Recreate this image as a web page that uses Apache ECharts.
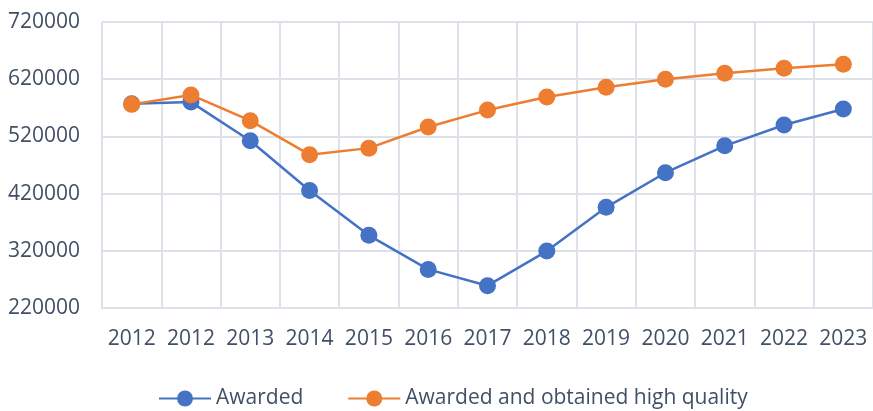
<!DOCTYPE html>
<html><head><meta charset="utf-8">
<script src="https://cdn.jsdelivr.net/npm/echarts@6/dist/echarts.min.js"></script>
<style>html,body{margin:0;padding:0;background:#fff}#c{width:873px;height:411px}</style>
</head><body><div id="c"></div>
<script>
const categories = ['2012','2012','2013','2014','2015','2016','2017','2018','2019','2020','2021','2022','2023'];
const awarded = [577000, 580000, 512500, 425500, 347000, 287500, 259000, 319500, 396000, 456500, 503500, 540000, 568000];
const awardedHQ = [576000, 592500, 547500, 488000, 499500, 536500, 566000, 589000, 606000, 620000, 630500, 639000, 646000];
const seriesNames = ['Awarded', 'Awarded and obtained high quality'];

const textColor = '#415066';
const gridColor = '#dde2ea';
const font = 'Open Sans';
const chart = echarts.init(document.getElementById('c'));
chart.setOption({
  animation: false,
  backgroundColor: '#fff',
  grid: {left: 102, top: 22, right: -4, bottom: 103, containLabel: false},
  legend: {
    left: 153, top: 383, itemWidth: 52, itemHeight: 20, itemGap: 44,
    textStyle: {color: textColor, fontFamily: font, fontSize: 21},
    data: seriesNames
  },
  xAxis: {
    type: 'category', data: categories, boundaryGap: true,
    axisLine: {show: true, lineStyle: {color: gridColor, width: 2}},
    axisTick: {show: false},
    splitLine: {show: true, interval: 0, lineStyle: {color: gridColor, width: 2}},
    axisLabel: {interval: 0, color: textColor, fontFamily: font, fontSize: 21, margin: 21}
  },
  yAxis: {
    type: 'value', min: 220000, max: 720000, interval: 100000,
    axisLine: {show: false}, axisTick: {show: false},
    splitLine: {show: true, lineStyle: {color: gridColor, width: 2}},
    axisLabel: {color: textColor, fontFamily: font, fontSize: 21, margin: 22,
      formatter: v => String(v)}
  },
  series: [
    {name: seriesNames[0], type: 'line', data: awarded, symbol: 'circle', symbolSize: 17,
     lineStyle: {color: '#4472c4', width: 2.5}, itemStyle: {color: '#4472c4'}, z: 3},
    {name: seriesNames[1], type: 'line', data: awardedHQ, symbol: 'circle', symbolSize: 17,
     lineStyle: {color: '#ed7d31', width: 2.5}, itemStyle: {color: '#ed7d31'}, z: 4}
  ]
});
</script></body></html>
